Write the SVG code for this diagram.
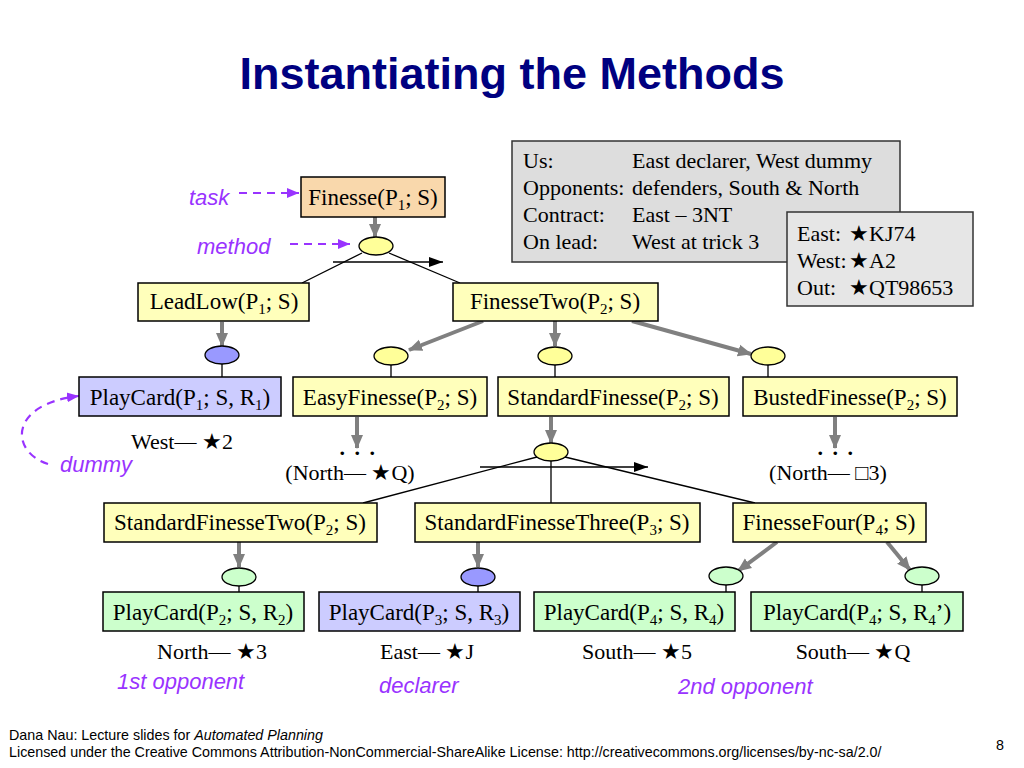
<svg xmlns="http://www.w3.org/2000/svg" width="1024" height="768" viewBox="0 0 1024 768">
<style>
.bx{stroke:#000;stroke-width:1.5}
.y{fill:#FFFFBB}
.pe{fill:#F9D8AC}
.bl{fill:#CCCCFF}
.gr{fill:#CCFFCC}
.ey{fill:#FFFF99;stroke:#000;stroke-width:1.3}
.eb{fill:#9999FF;stroke:#000;stroke-width:1.3}
.eg{fill:#CCFFCC;stroke:#000;stroke-width:1.3}
.t{font-family:"Liberation Serif","Times New Roman",serif;font-size:22px;fill:#000}
.bt{font-size:23px}
.m{text-anchor:middle}
.sub{font-size:15px}
.lbl{font-family:"Liberation Sans",Arial,sans-serif;font-style:italic;font-size:22px;fill:#9933FF}
.ga{stroke:#808080;stroke-width:4;fill:none;marker-end:url(#ga)}
.ln{stroke:#000;stroke-width:1.3;fill:none}
.ha{stroke:#000;stroke-width:1.3;fill:none;marker-end:url(#ka)}
.pa{stroke:#9933FF;stroke-width:2.2;fill:none;stroke-dasharray:8 6;marker-end:url(#pa)}
.info{fill:#DDDDDD;stroke:#333;stroke-width:1.5}
.info2{fill:#E6E6E6;stroke:#333;stroke-width:1.5}
.ft{font-family:"Liberation Sans",Arial,sans-serif;font-size:14.3px;fill:#000}
.dots{font-family:"Liberation Serif",serif;font-weight:bold;font-size:22px;letter-spacing:9.5px}
</style>
<defs>
<marker id="ga" markerUnits="userSpaceOnUse" markerWidth="14" markerHeight="14" viewBox="0 0 14 14" refX="13" refY="7" orient="auto">
<path d="M0,1 L14,7 L0,13 z" fill="#808080"/>
</marker>
<marker id="ka" markerUnits="userSpaceOnUse" markerWidth="14" markerHeight="10" viewBox="0 0 14 10" refX="14" refY="5" orient="auto">
<path d="M0,0 L14,5 L0,10 z" fill="#000"/>
</marker>
<marker id="pa" markerUnits="userSpaceOnUse" markerWidth="12" markerHeight="12" viewBox="0 0 12 12" refX="12" refY="6" orient="auto">
<path d="M0,1 L12,6 L0,11 z" fill="#9933FF"/>
</marker>
</defs>
<rect width="1024" height="768" fill="#fff"/>

<text x="512" y="89" text-anchor="middle" font-family="Liberation Sans, Arial, sans-serif" font-weight="bold" font-size="45" fill="#000080">Instantiating the Methods</text>

<g id="connectors">
<line class="ga" x1="375" y1="217" x2="375" y2="237"/>
<line class="ln" x1="362" y1="253" x2="302" y2="283"/>
<line class="ln" x1="389" y1="253" x2="460" y2="283"/>
<line class="ha" x1="333" y1="262" x2="443" y2="262"/>
<line class="ga" x1="222" y1="322" x2="222" y2="346"/>
<line class="ln" x1="222" y1="364" x2="222" y2="377"/>
<line class="ga" x1="483" y1="321" x2="409" y2="350"/>
<line class="ga" x1="555" y1="321" x2="555" y2="346"/>
<line class="ga" x1="632" y1="321" x2="751" y2="354"/>
<line class="ln" x1="391" y1="365" x2="391" y2="377"/>
<line class="ln" x1="555" y1="365" x2="555" y2="377"/>
<line class="ln" x1="768" y1="365" x2="768" y2="377"/>
<line class="ga" x1="357" y1="417" x2="357" y2="448"/>
<line class="ga" x1="551" y1="417" x2="551" y2="443"/>
<line class="ga" x1="835" y1="417" x2="835" y2="448"/>
<line class="ln" x1="537" y1="457" x2="363" y2="503"/>
<line class="ln" x1="551" y1="461" x2="551" y2="503"/>
<line class="ln" x1="565" y1="457" x2="755" y2="503"/>
<line class="ha" x1="480" y1="467" x2="648" y2="467"/>
<line class="ga" x1="239" y1="542" x2="239" y2="567"/>
<line class="ga" x1="478" y1="542" x2="478" y2="567"/>
<line class="ga" x1="777" y1="542" x2="738" y2="571"/>
<line class="ga" x1="887" y1="542" x2="910" y2="570"/>
<line class="ln" x1="239" y1="586" x2="239" y2="592"/>
<line class="ln" x1="478" y1="586" x2="478" y2="592"/>
<line class="ln" x1="726" y1="585" x2="726" y2="592"/>
<line class="ln" x1="922" y1="585" x2="922" y2="592"/>
<line class="pa" x1="239" y1="193" x2="299" y2="193"/>
<line class="pa" x1="290" y1="244" x2="350" y2="244"/>
<path class="pa" d="M48,464 C10,452 8,404 79,396"/>
</g>

<g id="n-finesse"><rect class="bx pe" x="301" y="177" width="144" height="40"/><text class="t bt m" x="373" y="205">Finesse(P<tspan class="sub" dy="5">1</tspan><tspan dy="-5">; S)</tspan></text></g>
<g id="m-top"><ellipse class="ey" cx="376" cy="246" rx="17" ry="9"/></g>
<g id="n-leadlow"><rect class="bx y" x="138" y="283" width="171" height="38"/><text class="t bt m" x="224" y="309">LeadLow(P<tspan class="sub" dy="5">1</tspan><tspan dy="-5">; S)</tspan></text></g>
<g id="n-finessetwo"><rect class="bx y" x="453" y="283" width="205" height="38"/><text class="t bt m" x="555" y="309">FinesseTwo(P<tspan class="sub" dy="5">2</tspan><tspan dy="-5">; S)</tspan></text></g>
<g id="m-leadlow"><ellipse class="eb" cx="222" cy="355" rx="17" ry="9"/></g>
<g id="m-easy"><ellipse class="ey" cx="391" cy="356" rx="17" ry="9"/></g>
<g id="m-std"><ellipse class="ey" cx="555" cy="356" rx="17" ry="9"/></g>
<g id="m-busted"><ellipse class="ey" cx="768" cy="356" rx="17" ry="9"/></g>

<g id="n-playcard1"><rect class="bx bl" x="79" y="377" width="202" height="39"/><text class="t bt m" x="180" y="405">PlayCard(P<tspan class="sub" dy="5">1</tspan><tspan dy="-5">; S, R</tspan><tspan class="sub" dy="5">1</tspan><tspan dy="-5">)</tspan></text></g>
<g id="n-easy"><rect class="bx y" x="293" y="377" width="194" height="39"/><text class="t bt m" x="390" y="405">EasyFinesse(P<tspan class="sub" dy="5">2</tspan><tspan dy="-5">; S)</tspan></text></g>
<g id="n-std"><rect class="bx y" x="498" y="377" width="231" height="39"/><text class="t bt m" x="613" y="405">StandardFinesse(P<tspan class="sub" dy="5">2</tspan><tspan dy="-5">; S)</tspan></text></g>
<g id="n-busted"><rect class="bx y" x="743" y="377" width="214" height="39"/><text class="t bt m" x="850" y="405">BustedFinesse(P<tspan class="sub" dy="5">2</tspan><tspan dy="-5">; S)</tspan></text></g>

<text class="t m" x="182" y="449">West— ★2</text>
<text class="t m dots" x="362" y="455">...</text>
<text class="t m" x="350" y="480">(North— ★Q)</text>
<text class="t m dots" x="840" y="455">...</text>
<text class="t m" x="828" y="480">(North— □3)</text>
<g id="m-std2"><ellipse class="ey" cx="551" cy="452" rx="17" ry="9"/></g>

<g id="n-sf2"><rect class="bx y" x="104" y="503" width="273" height="39"/><text class="t bt m" x="240" y="530">StandardFinesseTwo(P<tspan class="sub" dy="5">2</tspan><tspan dy="-5">; S)</tspan></text></g>
<g id="n-sf3"><rect class="bx y" x="415" y="503" width="285" height="39"/><text class="t bt m" x="557" y="530">StandardFinesseThree(P<tspan class="sub" dy="5">3</tspan><tspan dy="-5">; S)</tspan></text></g>
<g id="n-f4"><rect class="bx y" x="733" y="503" width="193" height="39"/><text class="t bt m" x="829" y="530">FinesseFour(P<tspan class="sub" dy="5">4</tspan><tspan dy="-5">; S)</tspan></text></g>
<g id="m-sf2"><ellipse class="eg" cx="239" cy="577" rx="17" ry="9"/></g>
<g id="m-sf3"><ellipse class="eb" cx="478" cy="577" rx="17" ry="9"/></g>
<g id="m-f4a"><ellipse class="eg" cx="726" cy="576" rx="17" ry="9"/></g>
<g id="m-f4b"><ellipse class="eg" cx="922" cy="576" rx="17" ry="9"/></g>

<g id="n-pc2"><rect class="bx gr" x="103" y="592" width="201" height="39"/><text class="t bt m" x="203" y="620">PlayCard(P<tspan class="sub" dy="5">2</tspan><tspan dy="-5">; S, R</tspan><tspan class="sub" dy="5">2</tspan><tspan dy="-5">)</tspan></text></g>
<g id="n-pc3"><rect class="bx bl" x="319" y="592" width="201" height="39"/><text class="t bt m" x="419" y="620">PlayCard(P<tspan class="sub" dy="5">3</tspan><tspan dy="-5">; S, R</tspan><tspan class="sub" dy="5">3</tspan><tspan dy="-5">)</tspan></text></g>
<g id="n-pc4"><rect class="bx gr" x="534" y="592" width="201" height="39"/><text class="t bt m" x="634" y="620">PlayCard(P<tspan class="sub" dy="5">4</tspan><tspan dy="-5">; S, R</tspan><tspan class="sub" dy="5">4</tspan><tspan dy="-5">)</tspan></text></g>
<g id="n-pc4b"><rect class="bx gr" x="751" y="592" width="212" height="39"/><text class="t bt m" x="857" y="620">PlayCard(P<tspan class="sub" dy="5">4</tspan><tspan dy="-5">; S, R</tspan><tspan class="sub" dy="5">4</tspan><tspan dy="-5">’)</tspan></text></g>

<text class="t m" x="212" y="659">North— ★3</text>
<text class="t m" x="427" y="659">East— ★J</text>
<text class="t m" x="637" y="659">South— ★5</text>
<text class="t m" x="853" y="659">South— ★Q</text>

<text class="lbl" x="189" y="205">task</text>
<text class="lbl" x="197" y="254">method</text>
<text class="lbl" x="60" y="472">dummy</text>
<text class="lbl" x="117" y="689">1st opponent</text>
<text class="lbl" x="379" y="693">declarer</text>
<text class="lbl" x="678" y="694">2nd opponent</text>

<g id="info">
<rect class="info" x="512" y="141" width="388" height="121"/>
<text class="t" x="523" y="168">Us:<tspan x="632">East declarer, West dummy</tspan></text>
<text class="t" x="523" y="195">Opponents:<tspan x="632">defenders, South &amp; North</tspan></text>
<text class="t" x="523" y="222">Contract:<tspan x="632">East – 3NT</tspan></text>
<text class="t" x="523" y="249">On lead:<tspan x="632">West at trick 3</tspan></text>
</g>
<g id="hands">
<rect class="info2" x="787" y="212" width="186" height="94"/>
<text class="t" x="797" y="241">East:<tspan x="849">★KJ74</tspan></text>
<text class="t" x="797" y="268">West:<tspan x="849">★A2</tspan></text>
<text class="t" x="797" y="295">Out:<tspan x="849">★QT98653</tspan></text>
</g>

<text class="ft" x="9" y="740">Dana Nau: Lecture slides for <tspan font-style="italic">Automated Planning</tspan></text>
<text class="ft" x="9" y="757">Licensed under the Creative Commons Attribution-NonCommercial-ShareAlike License: http://creativecommons.org/licenses/by-nc-sa/2.0/</text>
<text class="ft" x="996" y="750">8</text>
</svg>
